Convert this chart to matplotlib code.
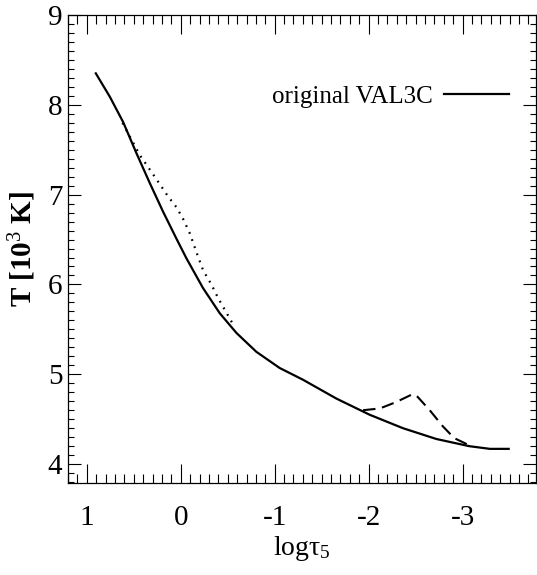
import matplotlib
matplotlib.use("Agg")
import matplotlib.pyplot as plt
from matplotlib.ticker import MultipleLocator

# === DATI ===
# modello originale VAL3C (linea continua)
logtau_val = [0.904, 0.755, 0.614, 0.471, 0.330, 0.188, 0.046, -0.061, -0.237, -0.415,
              -0.593, -0.805, -1.053, -1.30, -1.656, -2.01, -2.365, -2.72, -3.07, -3.29, -3.49]
temp_val = [8.35, 8.09, 7.81, 7.46, 7.13, 6.81, 6.51, 6.29, 5.96, 5.68,
            5.46, 5.25, 5.07, 4.94, 4.73, 4.55, 4.40, 4.28, 4.20, 4.17, 4.17]

# perturbazione negli strati profondi (puntini)
logtau_dot = [0.62, 0.436, 0.277, 0.135, 0.046, -0.025, -0.096, -0.167, -0.237,
              -0.326, -0.397, -0.468, -0.56]
temp_dot = [7.80, 7.44, 7.20, 6.98, 6.86, 6.73, 6.57, 6.36, 6.16,
            6.00, 5.85, 5.72, 5.55]

# perturbazione negli strati alti (tratteggio)
logtau_dash = [-1.94, -2.12, -2.29, -2.47, -2.52, -2.65, -2.79, -2.91, -3.07]
temp_dash = [4.60, 4.62, 4.69, 4.78, 4.75, 4.60, 4.42, 4.29, 4.21]

x_ticks = [1, 0, -1, -2, -3]
y_ticks = [4, 5, 6, 7, 8, 9]

plt.rcParams["font.family"] = ["Liberation Serif", "DejaVu Serif"]
plt.rcParams["mathtext.fontset"] = "custom"
plt.rcParams["mathtext.rm"] = "Liberation Serif"
plt.rcParams["mathtext.it"] = "Liberation Serif:italic"
plt.rcParams["mathtext.bf"] = "Liberation Serif:bold"


def main():
    fig = plt.figure(figsize=(5.37, 5.75), dpi=100)
    ax = fig.add_axes([0.1266, 0.16, 0.8714, 0.814])

    ax.plot(logtau_val, temp_val, color="black", lw=1.6, label="original VAL3C")
    ax.plot(logtau_dot, temp_dot, color="black", lw=1.6, linestyle=(0, (0.8, 2.6)))
    ax.plot(logtau_dash, temp_dash, color="black", lw=1.5, linestyle=(0, (6, 3.2)))

    ax.set_xlim(1.2, -3.78)
    ax.set_ylim(3.79, 9.0)
    ax.set_xticks(x_ticks)
    ax.set_xticklabels([str(t) for t in x_ticks])
    ax.set_yticks(y_ticks)
    ax.xaxis.set_minor_locator(MultipleLocator(0.1))
    ax.yaxis.set_minor_locator(MultipleLocator(0.1))

    ax.tick_params(axis="x", which="major", direction="in", length=13.5, width=0.8,
                   top=True, labelsize=21, pad=16)
    ax.tick_params(axis="x", which="minor", direction="in", length=6.5, width=0.8, top=True)
    ax.tick_params(axis="y", which="major", direction="in", length=9.5, width=0.8,
                   right=True, labelsize=21, pad=4)
    ax.tick_params(axis="y", which="minor", direction="in", length=4.5, width=0.8, right=True)
    for s in ax.spines.values():
        s.set_linewidth(0.9)

    ax.set_xlabel(r"log$\mathrm{\tau}_{5}$", fontsize=20, labelpad=2)
    ax.set_ylabel(r"T [10$^{3}$ K]", fontsize=21, fontweight="bold", labelpad=7)

    ax.legend(loc="center right", bbox_to_anchor=(0.942, 0.825), frameon=False,
              markerfirst=False, fontsize=18, handlelength=2.6, handletextpad=0.45,
              borderpad=0, borderaxespad=0)

    fig.savefig("out.png", dpi=100)
    plt.close(fig)


if __name__ == "__main__":
    main()
